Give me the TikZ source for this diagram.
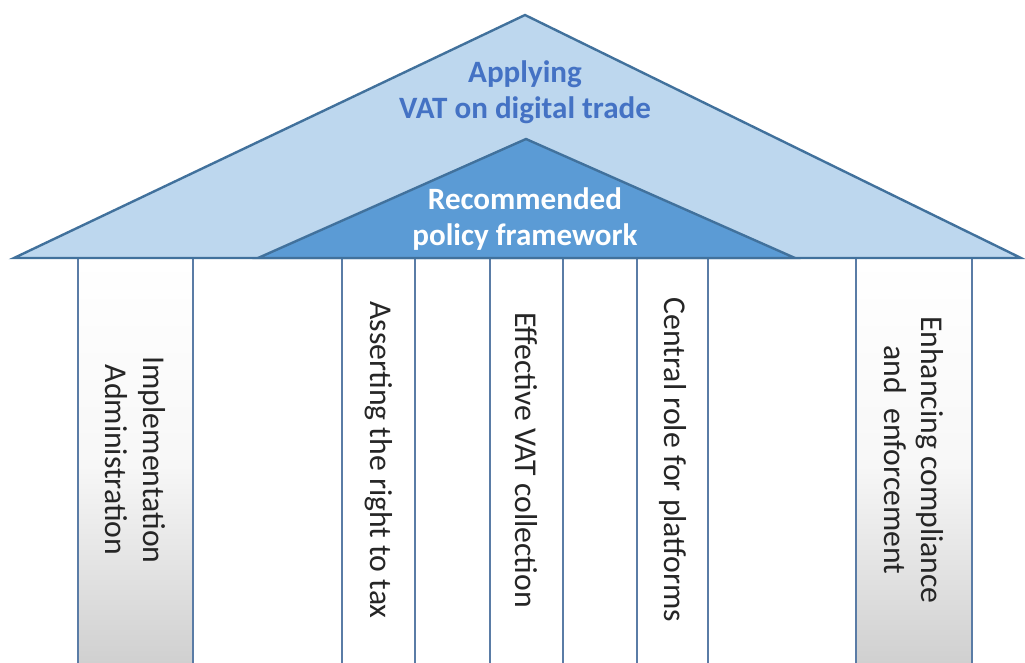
\documentclass[tikz,border=0pt]{standalone}
\usepackage{fontspec}
\setmainfont{Carlito}
\usepackage{tikz}
\usetikzlibrary{positioning}
\definecolor{roofline}{HTML}{41719C}
\definecolor{roofouter}{HTML}{BDD7EE}
\definecolor{roofinner}{HTML}{5B9BD5}
\definecolor{titleblue}{HTML}{4472C4}
\definecolor{pillarline}{HTML}{5A7CA6}
\definecolor{pillartext}{HTML}{262626}
\tikzset{
roof/.style={draw=roofline, line width=1.8pt, line join=miter}, % outline of both roof triangles
pillaredge/.style={draw=pillarline, line width=2.2pt}, % the two sides of a pillar
greypillar/.style={top color=white, bottom color=gray!38, middle color=gray!6}, % shaded pillar body
pillarlabel/.style={rotate=-90, align=center, text=pillartext, font=\fontsize{23.8}{28}\selectfont}, % text that runs down a pillar
rooflabel/.style={align=center, font=\fontsize{23.3}{27}\selectfont\bfseries}, % text on the roof
}

\begin{document}
\begin{tikzpicture}[x=0.75pt, y=-0.75pt]
    \useasboundingbox[fill=white] (0,0) rectangle (1025,662);

    % pillars
    \shade[greypillar] (78,258) rectangle (193,670);
    \shade[greypillar] (856,258) rectangle (972,670);
    \draw[pillaredge] (78,258) -- (78,670) (193,258) -- (193,670);
    \draw[pillaredge] (342,258) -- (342,670) (415,258) -- (415,670);
    \draw[pillaredge] (490,258) -- (490,670) (563,258) -- (563,670);
    \draw[pillaredge] (637,258) -- (637,670) (708,258) -- (708,670);
    \draw[pillaredge] (856,258) -- (856,670) (972,258) -- (972,670);

    \node[pillarlabel] (impl) at (135.5,460) {Implementation\\Administration};
    \node[pillarlabel] (assert) at (378.5,460) {Asserting the right to tax};
    \node[pillarlabel] (collect) at (526.5,460) {Effective VAT collection};
    \node[pillarlabel] (platform) at (672.5,460) {Central role for platforms};
    \node[pillarlabel] (comply) at (914,460) {Enhancing compliance\\and\ \ enforcement};

    % roof
    \coordinate (outerleft) at (14,258);
    \coordinate (outertop) at (525,15);
    \coordinate (outerright) at (1021,258);
    \coordinate (innerleft) at (258,258);
    \coordinate (innertop) at (526,139);
    \coordinate (innerright) at (795,258);
    \filldraw[roof, fill=roofouter] (outerleft) -- (outertop) -- (outerright) -- cycle;
    \filldraw[roof, fill=roofinner] (innerleft) -- (innertop) -- (innerright) -- cycle;
    \draw[roof] (outerleft) -- (outerright);

    \node[rooflabel, text=titleblue] (vat) at (525,92) {Applying\\VAT on digital trade};
    \node[rooflabel, text=white] (policy) at (525,219) {Recommended\\policy framework};

  \end{tikzpicture}
\end{document}
